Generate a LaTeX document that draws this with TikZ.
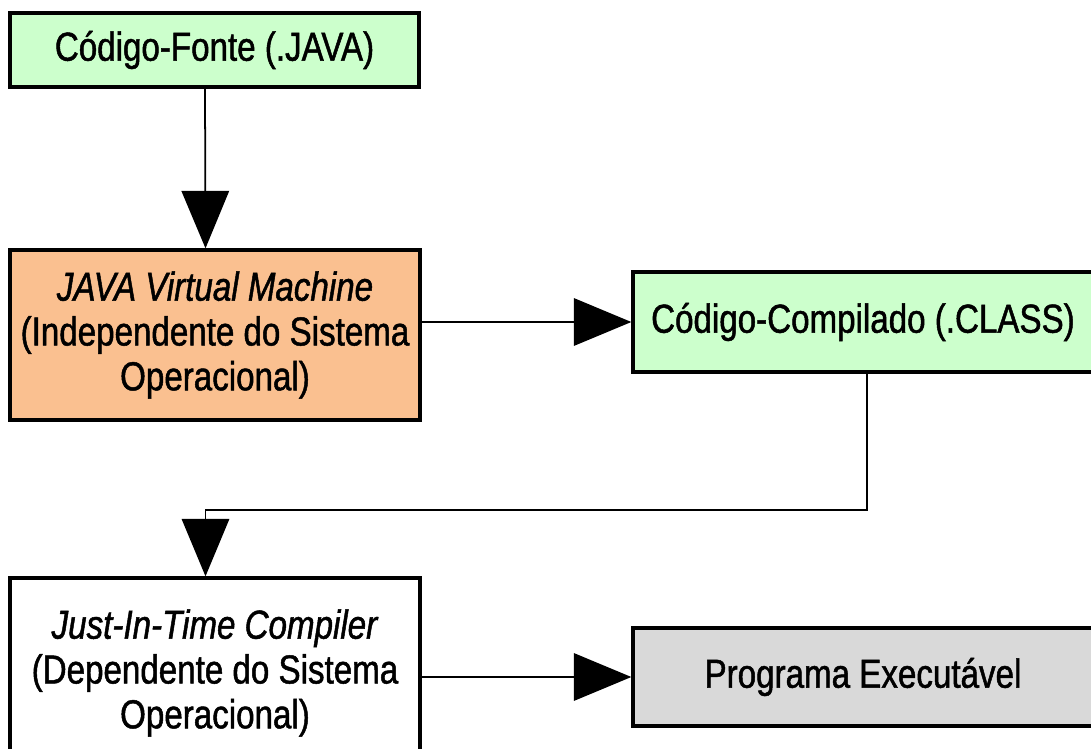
\documentclass[tikz,border=0pt]{standalone}
\usepackage{fontspec}
\setmainfont{Liberation Sans}[FakeStretch=0.82,FakeBold=1.2]
\usetikzlibrary{arrows.meta,positioning}

\definecolor{verdeclaro}{HTML}{CCFFCC}
\definecolor{laranja}{HTML}{FAC090}
\definecolor{cinza}{HTML}{D9D9D9}

\tikzset{
    etapa/.style={draw=black, line width=1.9pt, align=center, inner sep=0pt,
        font=\fontsize{23}{25.5}\selectfont},
    fluxo/.style={line width=1pt, -{Triangle[length=1.15cm,width=0.95cm]}}
}

\begin{document}
\begin{tikzpicture}
    \useasboundingbox[fill=white] (0,0) rectangle (21.82,-14.98);

    % Etapas do lado esquerdo
    \node[etapa, fill=verdeclaro, minimum width=8.18cm, minimum height=1.48cm] (fonte) at (4.29,-1.0) {Código-Fonte (.JAVA)};
    \node[etapa, fill=laranja, minimum width=8.2cm, minimum height=3.4cm] (jvm) at (4.3,-6.7)
        {\textit{JAVA Virtual Machine}\\(Independente do Sistema\\Operacional)};
    \node[etapa, fill=white, minimum width=8.2cm, minimum height=3.8cm] (jit) at (4.3,-13.46)
        {\textit{Just-In-Time Compiler}\\(Dependente do Sistema\\Operacional)};

    % Etapas do lado direito
    \node[etapa, fill=verdeclaro, minimum width=9.2cm, minimum height=2.0cm] (compilado) at (17.26,-6.44) {Código-Compilado (.CLASS)};
    \node[etapa, fill=cinza, minimum width=9.2cm, minimum height=1.96cm] (programa) at (17.26,-13.54) {Programa Executável};

    % Ligacoes
    \coordinate (desvio) at (17.34,-10.2);
    \draw[fluxo] ([xshift=-0.19cm]fonte.south) -- ([xshift=-0.19cm]jvm.north);
    \draw[fluxo] (jvm.east |- compilado.west) -- (compilado.west);
    \draw[fluxo] (compilado.south -| desvio) -- (desvio) -| ([xshift=-0.19cm]jit.north);
    \draw[fluxo] (jit.east |- programa.west) -- (programa.west);
\end{tikzpicture}
\end{document}
